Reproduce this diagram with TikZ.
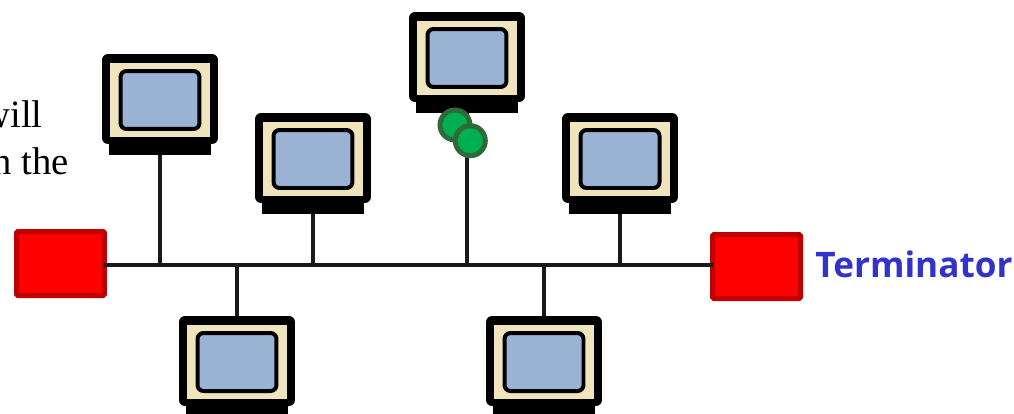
\documentclass[tikz,border=0pt]{standalone}
\usepackage{fontspec}
\setmainfont{Liberation Serif}
\newfontfamily\labelfont{Open Sans}
\definecolor{termred}{HTML}{FF0000}
\definecolor{termedge}{HTML}{C00000}
\definecolor{caseblue}{HTML}{9AB3D5}
\definecolor{casecream}{HTML}{F0E4BC}
\definecolor{dotgreen}{HTML}{00B050}
\definecolor{dotedge}{HTML}{2F6B38}
\definecolor{labelblue}{HTML}{3333CC}
\tikzset{
  wire/.style={line width=0.08cm, black!90},
  box/.style={inner sep=0pt, outer sep=0pt, rounded corners=0.12cm},
  monbody/.style={box, fill=black, minimum width=2.32cm, minimum height=1.80cm},
  monbase/.style={box, fill=black, rounded corners=0pt, minimum width=2.04cm, minimum height=0.32cm},
  moncream/.style={box, fill=casecream, rounded corners=0pt, minimum width=2.02cm, minimum height=1.48cm},
  monscreen/.style={box, fill=caseblue, draw=black, line width=0.08cm, minimum width=1.58cm, minimum height=1.16cm},
  terminator/.style={box, rounded corners=0.03cm, fill=termred, draw=termedge, line width=0.10cm, minimum width=1.76cm, minimum height=1.28cm},
  dot/.style={circle, inner sep=0pt, outer sep=0pt, fill=dotgreen, draw=dotedge, line width=0.10cm, minimum size=0.60cm},
  note/.style={inner sep=0pt, anchor=base east, font=\fontsize{22}{26}\selectfont}
}
\begin{document}
\begin{tikzpicture}[x=0.02cm, y=-0.02cm]

  \useasboundingbox (0,0) rectangle (1014,413);
  \clip (0,0) rectangle (1014,413);

  % Cut off text at the left edge
  \node[note] (notea) at (43,127) {will};
  \node[note] (noteb) at (69,174) {n the};

  % Monitors: name / centre / top edge
  \foreach \name/\cx/\ytop in {a/160/54, c/313/113, d/467/12, f/620/113, b/237/316, e/544/316} {
    \node[monbase]   (base\name) at (\cx,\ytop+93) {};
    \node[monbody]   (mon\name)  at (\cx,\ytop+45) {};
    \node[moncream]              at (\cx,\ytop+46) {};
    \node[monscreen]             at (\cx,\ytop+46) {};
    \coordinate (tap\name) at (\cx,265);
  }

  % Terminators
  \node[terminator] (termleft)  at (60.5,263.5)  {};
  \node[terminator] (termright) at (756.5,266.5) {};
  \node[anchor=west, inner sep=0pt, text=labelblue, font=\labelfont\bfseries\fontsize{20}{24}\selectfont] (termlabel) at (815,264) {Terminator};

  % Bus
  \draw[wire] (termleft.east |- tapa) -- (termright.west |- tapa);

  % Stubs
  \foreach \name in {a,c,d,f} {
    \draw[wire] (base\name.south) -- (tap\name);
  }
  \foreach \name in {b,e} {
    \draw[wire] (mon\name.north) -- (tap\name);
  }

  % Tokens
  \node[dot] (dota) at (455,125) {};
  \node[dot] (dotb) at (470.3,140.7) {};

\end{tikzpicture}
\end{document}
